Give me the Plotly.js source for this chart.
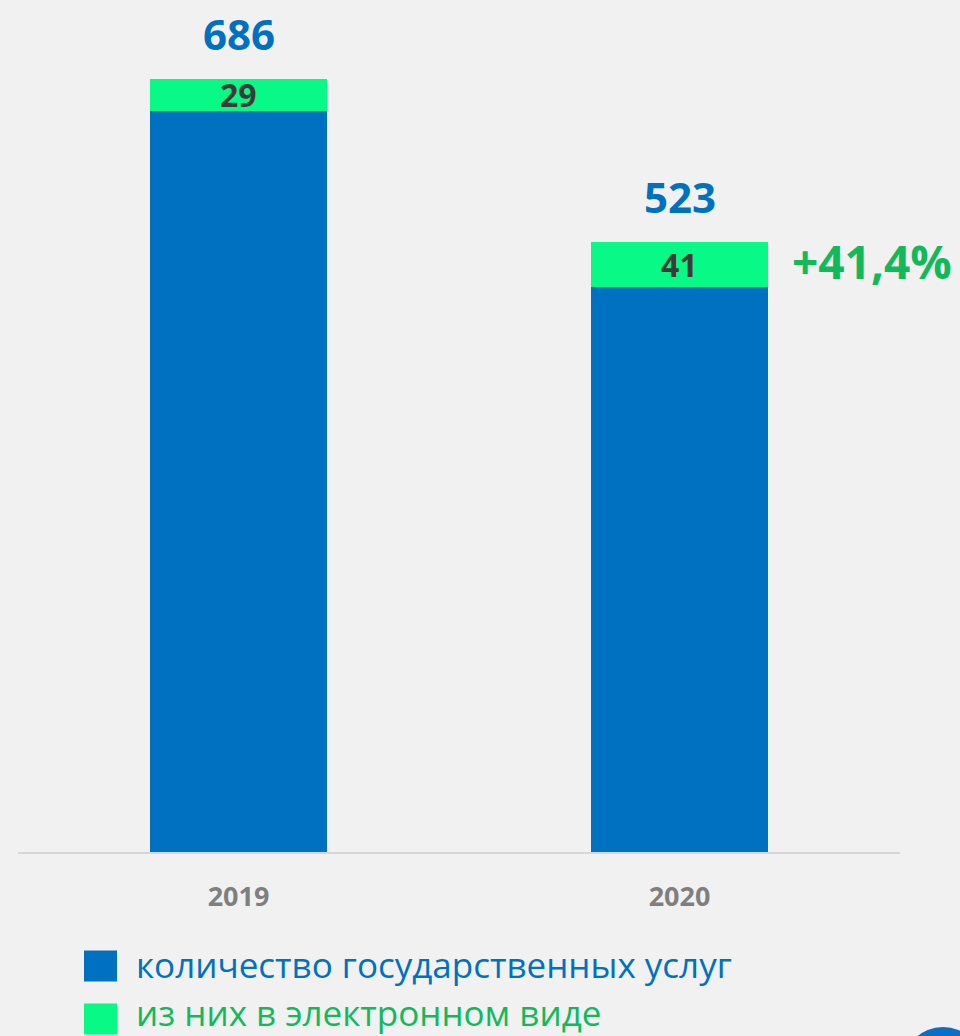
<!DOCTYPE html>
<html>
<head>
<meta charset="utf-8">
<script src="https://cdn.plot.ly/plotly-3.0.1.min.js"></script>
<style>
  html, body { margin: 0; padding: 0; background: #f1f1f1; }
  #chart { width: 960px; height: 1036px; }
</style>
</head>
<body>
<div id="chart"></div>
<script>
// ---- data ----
const years = ['2019', '2020'];
const totalServices = [686, 523];        // количество государственных услуг
const electronicServices = [29, 41];     // из них в электронном виде
const seriesNames = ['количество государственных услуг', 'из них в электронном виде'];

// ---- styles ----
const BLUE = '#0070c0';
const GREEN_BAR = '#08f986';
const GREEN_TEXT = '#12b95b';
const FONT = '"Open Sans", "DejaVu Sans", sans-serif';

const traces = [
  {
    type: 'bar', x: years, y: totalServices, name: seriesNames[0],
    marker: { color: BLUE }, width: 0.4, hoverinfo: 'skip'
  },
  {
    type: 'bar', x: years, y: electronicServices, name: seriesNames[1],
    marker: { color: GREEN_BAR }, width: 0.4, hoverinfo: 'skip'
  }
];

const annotations = [];
years.forEach((yr, i) => {
  const top = totalServices[i] + electronicServices[i];
  annotations.push({
    x: i, y: top, xref: 'x', yref: 'y', text: String(totalServices[i]),
    showarrow: false, yanchor: 'middle', yshift: 46,
    font: { family: FONT, size: 42, color: BLUE, weight: 700 }
  });
  annotations.push({
    x: i, y: totalServices[i] + electronicServices[i] / 2, xref: 'x', yref: 'y',
    text: String(electronicServices[i]), showarrow: false, yanchor: 'middle',
    font: { family: FONT, size: 32, color: '#3a3a3a', weight: 700 }
  });
});
const growth = (electronicServices[1] - electronicServices[0]) / electronicServices[0] * 100;
annotations.push({
  x: 1, y: totalServices[1] + electronicServices[1], xref: 'x', yref: 'y',
  text: '+' + growth.toFixed(1).replace('.', ',') + '%', showarrow: false,
  xanchor: 'left', yanchor: 'middle', xshift: 110, yshift: -19,
  font: { family: FONT, size: 46, color: GREEN_TEXT, weight: 700 }
});

// legend (manual)
const legendColors = [BLUE, GREEN_BAR];
const legendTextColors = [BLUE, GREEN_TEXT];
const shapes = [];
const px2x = px => (px - 18) / 882;
const py2y = py => (852 - py) / 842;
seriesNames.forEach((nm, i) => {
  const cy = 966 + i * 53;
  shapes.push({
    type: 'rect', xref: 'paper', yref: 'paper',
    x0: px2x(84), x1: px2x(117), y0: py2y(cy + 15.5), y1: py2y(cy - 15.5),
    fillcolor: legendColors[i], line: { width: 0 }
  });
  annotations.push({
    xref: 'paper', yref: 'paper', x: px2x(134), y: py2y(i ? 1012 : 964),
    xanchor: 'left', yanchor: 'middle', showarrow: false, text: nm,
    font: { family: FONT, size: 35, color: legendTextColors[i] }
  });
});
// decorative circle in bottom-right corner
shapes.push({
  type: 'circle', xref: 'paper', yref: 'paper',
  x0: px2x(903), x1: px2x(983), y0: py2y(1107), y1: py2y(1027),
  fillcolor: '#0a6fc4', line: { width: 0 }
});

const layout = {
  width: 960, height: 1036,
  margin: { l: 18, r: 60, t: 10, b: 184 },
  paper_bgcolor: '#f1f1f1', plot_bgcolor: 'rgba(0,0,0,0)',
  barmode: 'stack', bargap: 0.6, showlegend: false,
  xaxis: {
    type: 'category', range: [-0.5, 1.5], showgrid: false, zeroline: false,
    showline: true, linecolor: '#d6d6d6', linewidth: 2, ticks: '',
    ticklabelstandoff: 20,
    tickfont: { family: FONT, size: 27, color: '#7f7f7f', weight: 700 }
  },
  yaxis: {
    range: [0, 779], visible: false, showgrid: false, zeroline: false, fixedrange: true
  },
  annotations: annotations,
  shapes: shapes
};

Plotly.newPlot('chart', traces, layout, { displayModeBar: false, staticPlot: true });
</script>
</body>
</html>
